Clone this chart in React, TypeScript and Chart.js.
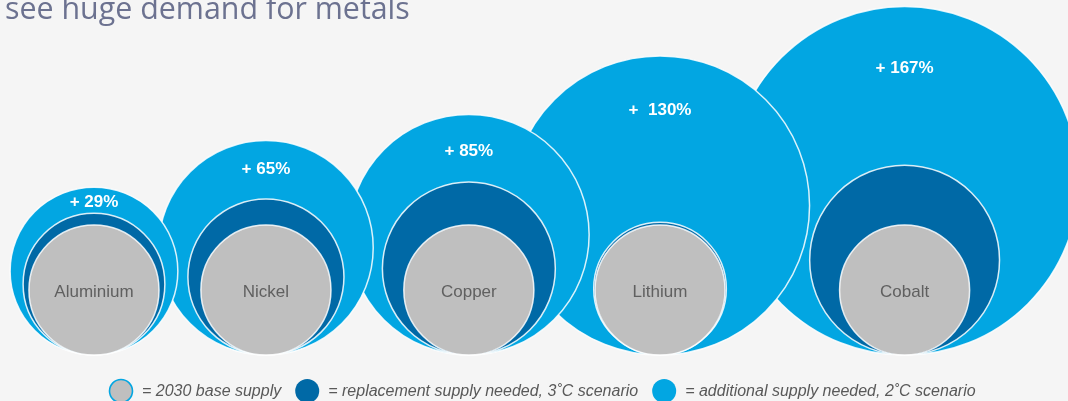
import React, { useEffect, useRef } from 'react';
import { Chart, registerables } from 'chart.js';

Chart.register(...registerables);

const title = 'see huge demand for metals';
const metals = ['Aluminium', 'Nickel', 'Copper', 'Lithium', 'Cobalt'];
const position = [8.8, 24.9, 43.9, 61.8, 84.7];
const baseSupply = [100, 100, 100, 100, 100];
const replacement3C = [109, 120, 133, 102, 146];
const additional2C = [129, 165, 185, 230, 268];
const increaseLabels = ['+ 29%', '+ 65%', '+ 85%', '+  130%', '+ 167%'];
const legendLabels = [
  '= 2030 base supply',
  '= replacement supply needed, 3˚C scenario',
  '= additional supply needed, 2˚C scenario',
];

const BG = '#f5f5f5';
const LIGHT = '#02a6e2';
const DARK = '#0069a6';
const GREY = '#bfbfbf';
const EDGE = 'rgba(255,255,255,0.85)';

// draw order: rightmost first so smaller (left) circles sit on top
const drawOrder = [4, 3, 2, 1, 0];

const makeData = (values: number[]) =>
  drawOrder.map((i) => ({ x: position[i], y: values[i] / 2, v: values[i] }));

const radiusFn = (ctx: any) => {
  const y = ctx.chart.scales.y;
  if (!y || !ctx.raw) return 0;
  const r = y.getPixelForValue(0) - y.getPixelForValue(ctx.raw.v / 2);
  return isFinite(r) ? r : 0;
};

const decorPlugin = {
  id: 'decor',
  beforeDraw(chart: any) {
    const { ctx, width, height } = chart;
    ctx.save();
    ctx.fillStyle = BG;
    ctx.fillRect(0, 0, width, height);
    ctx.fillStyle = '#6c7290';
    let size = 29;
    ctx.font = `400 ${size}px "Open Sans"`;
    const w = ctx.measureText(title).width;
    size = (size * 405) / w;
    ctx.font = `400 ${size}px "Open Sans"`;
    ctx.textBaseline = 'alphabetic';
    ctx.textAlign = 'left';
    ctx.fillText(title, 5, 19);
    ctx.restore();
  },
  afterDatasetsDraw(chart: any) {
    const { ctx } = chart;
    const outerMeta = chart.getDatasetMeta(2);
    const greyMeta = chart.getDatasetMeta(0);
    ctx.save();
    ctx.textAlign = 'center';
    ctx.textBaseline = 'middle';
    drawOrder.forEach((mi, j) => {
      const o = outerMeta.data[j];
      const r = o.options.radius;
      const top = o.y - r;
      ctx.fillStyle = '#ffffff';
      ctx.font = 'bold 17px "Liberation Sans", Arial, sans-serif';
      ctx.fillText(increaseLabels[mi], o.x, top + Math.min(0.6 * r - 35, 62));
      const g = greyMeta.data[j];
      ctx.fillStyle = '#606060';
      ctx.font = '17px "Liberation Sans", Arial, sans-serif';
      ctx.fillText(metals[mi], g.x, g.y + 2);
    });
    ctx.restore();
  },
  afterDraw(chart: any) {
    const { ctx } = chart;
    ctx.save();
    const cy = 391;
    let x = 109;
    const fills = [GREY, DARK, LIGHT];
    ctx.font = 'italic 16px "Liberation Sans", Arial, sans-serif';
    ctx.textBaseline = 'middle';
    ctx.textAlign = 'left';
    legendLabels.forEach((lab, i) => {
      ctx.beginPath();
      ctx.arc(x + 12, cy, i === 0 ? 11.5 : 12, 0, Math.PI * 2);
      ctx.fillStyle = fills[i];
      ctx.fill();
      if (i === 0) {
        ctx.lineWidth = 1.6;
        ctx.strokeStyle = LIGHT;
        ctx.stroke();
      }
      ctx.fillStyle = '#595959';
      ctx.fillText(lab, x + 33, cy + 1);
      x = x + 33 + ctx.measureText(lab).width + 14;
    });
    ctx.restore();
  },
};

const ds = (label: string, values: number[], color: string, order: number) => ({
  label,
  data: makeData(values),
  backgroundColor: color,
  borderColor: EDGE,
  borderWidth: 1.5,
  pointBackgroundColor: color,
  pointBorderColor: EDGE,
  pointBorderWidth: 1.5,
  pointRadius: radiusFn,
  pointHoverRadius: radiusFn,
  showLine: false,
  order,
  clip: false,
});

export default function App() {
  const ref = useRef<HTMLCanvasElement>(null);
  useEffect(() => {
    if (!ref.current) return;
    const chart = new Chart(ref.current, {
      type: 'scatter',
      data: {
        datasets: [
          ds('2030 base supply', baseSupply, GREY, 0),
          ds('replacement supply needed, 3C', replacement3C, DARK, 1),
          ds('additional supply needed, 2C', additional2C, LIGHT, 2),
        ] as any,
      },
      options: {
        animation: false,
        responsive: false,
        devicePixelRatio: 1,
        layout: { padding: { top: 0, left: 0, right: 0, bottom: 46 } },
        scales: {
          x: { type: 'linear', min: 0, max: 100, display: false },
          y: { type: 'linear', min: 0, max: 273, display: false },
        },
        plugins: {
          legend: { display: false },
          tooltip: { enabled: false },
        },
        events: [],
      },
      plugins: [decorPlugin],
    });
    return () => chart.destroy();
  }, []);
  return (
    <div style={{ position: 'fixed', left: 0, top: 0, width: 1068, height: 401, background: BG }}>
      <canvas ref={ref} width={1068} height={401} />
    </div>
  );
}
